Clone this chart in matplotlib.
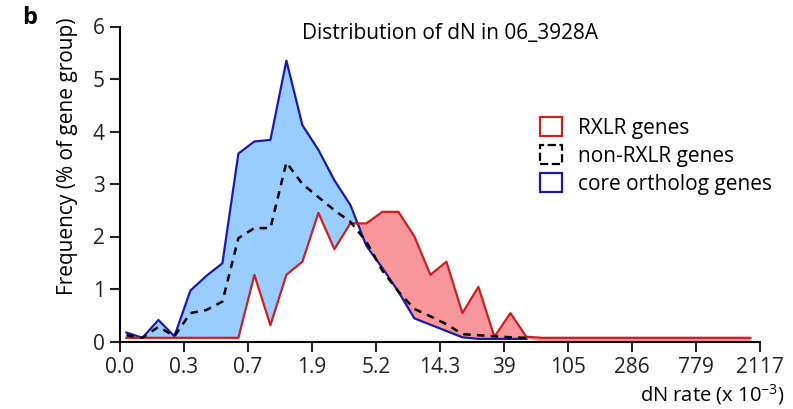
import numpy as np
import matplotlib
matplotlib.use("Agg")
import matplotlib.pyplot as plt
from matplotlib.patches import Patch

plt.rcParams['font.family'] = ['Open Sans', 'DejaVu Sans']
plt.rcParams['mathtext.fontset'] = 'custom'
plt.rcParams['mathtext.rm'] = 'Open Sans'

# bin index -> tick every 4 bins
tick_labels = ['0.0', '0.3', '0.7', '1.9', '5.2', '14.3', '39', '105', '286', '779', '2117']

# frequency (% of gene group) per dN bin
rxlr = [0.07, 0.07, 0.07, 0.07, 0.07, 0.07, 0.07, 0.07, 1.27, 0.31,
        1.27, 1.52, 2.45, 1.76, 2.25, 2.25, 2.47, 2.47, 2.00, 1.27,
        1.52, 0.54, 1.04, 0.09, 0.54, 0.09, 0.07, 0.07, 0.07, 0.07,
        0.07, 0.07, 0.07, 0.07, 0.07, 0.07, 0.07, 0.07, 0.07, 0.07]
non_rxlr = [0.12, 0.07, 0.28, 0.10, 0.54, 0.60, 0.76, 1.97, 2.16, 2.16,
            3.41, 3.00, 2.75, 2.50, 2.28, 1.90, 1.35, 0.95, 0.62, 0.48,
            0.33, 0.14, 0.12, 0.10, 0.08, 0.07]
core = [0.17, 0.07, 0.41, 0.10, 0.97, 1.25, 1.49, 3.58, 3.81, 3.84,
        5.35, 4.12, 3.65, 3.07, 2.60, 1.82, 1.40, 0.95, 0.44, 0.32,
        0.20, 0.08, 0.05, 0.05, 0.05, 0.05]

n_bins = len(rxlr)
x = np.arange(n_bins) + 0.4
red = np.array(rxlr)
core_full = np.zeros(n_bins)
core_full[:len(core)] = core

fig = plt.figure(figsize=(7.93, 4.09), dpi=100)
ax = fig.add_axes([120 / 793, 1 - 341.5 / 409, 640 / 793, 315 / 409])

blue_fill = '#99ccff'
red_fill = '#f7979c'
blue_line = '#1a1aa8'
red_line = '#cc2020'

ax.fill_between(x, red, core_full, where=core_full >= red, interpolate=True,
                color=blue_fill, lw=0, zorder=1)
ax.fill_between(x, red, core_full, where=red >= core_full, interpolate=True,
                color=red_fill, lw=0, zorder=1)
ax.plot(x[:len(core)], core, color=blue_line, lw=1.6, zorder=3)
ax.plot(x, red, color=red_line, lw=1.6, zorder=3)
ax.plot(x[:len(non_rxlr)], non_rxlr, color='black', lw=1.8, ls=(0, (3, 2.5)), zorder=4)

ax.set_xlim(0, 40)
ax.set_ylim(0, 6)
ax.set_xticks(np.arange(0, 41, 4))
ax.set_xticklabels(tick_labels)
ax.set_yticks(range(7))
ax.spines['top'].set_visible(False)
ax.spines['right'].set_visible(False)
for s in ['left', 'bottom']:
    ax.spines[s].set_linewidth(1.5)
ax.tick_params(direction='out', length=7, width=1.5, labelsize=15, pad=4, colors='#222222')

fig.text(68 / 793, 1 - 156 / 409, 'Frequency (% of gene group)', rotation=90,
         ha='center', va='center', fontsize=15)
fig.text(785 / 793, 1 - 395 / 409, 'dN rate (x 10$^{-3}$)', ha='right', va='center', fontsize=14.5)
fig.text(450 / 793, 1 - 33 / 409, 'Distribution of dN in 06_3928A', ha='center', va='center', fontsize=15)
fig.text(22 / 793, 1 - 18 / 409, 'b', ha='left', va='center', fontsize=17, fontweight='bold')

handles = [Patch(facecolor='none', edgecolor=red_line, lw=1.6),
           Patch(facecolor='none', edgecolor='black', lw=1.6, ls='--'),
           Patch(facecolor='none', edgecolor=blue_line, lw=1.6)]
fig.legend(handles, ['RXLR genes', 'non-RXLR genes', 'core ortholog genes'],
           loc='upper left', bbox_to_anchor=(540 / 793, 1 - 117 / 409),
           frameon=False, fontsize=15, handlelength=1.05, handleheight=1.05,
           handletextpad=0.75, labelspacing=0.3, borderpad=0, borderaxespad=0)

fig.savefig('out.png', dpi=100)
